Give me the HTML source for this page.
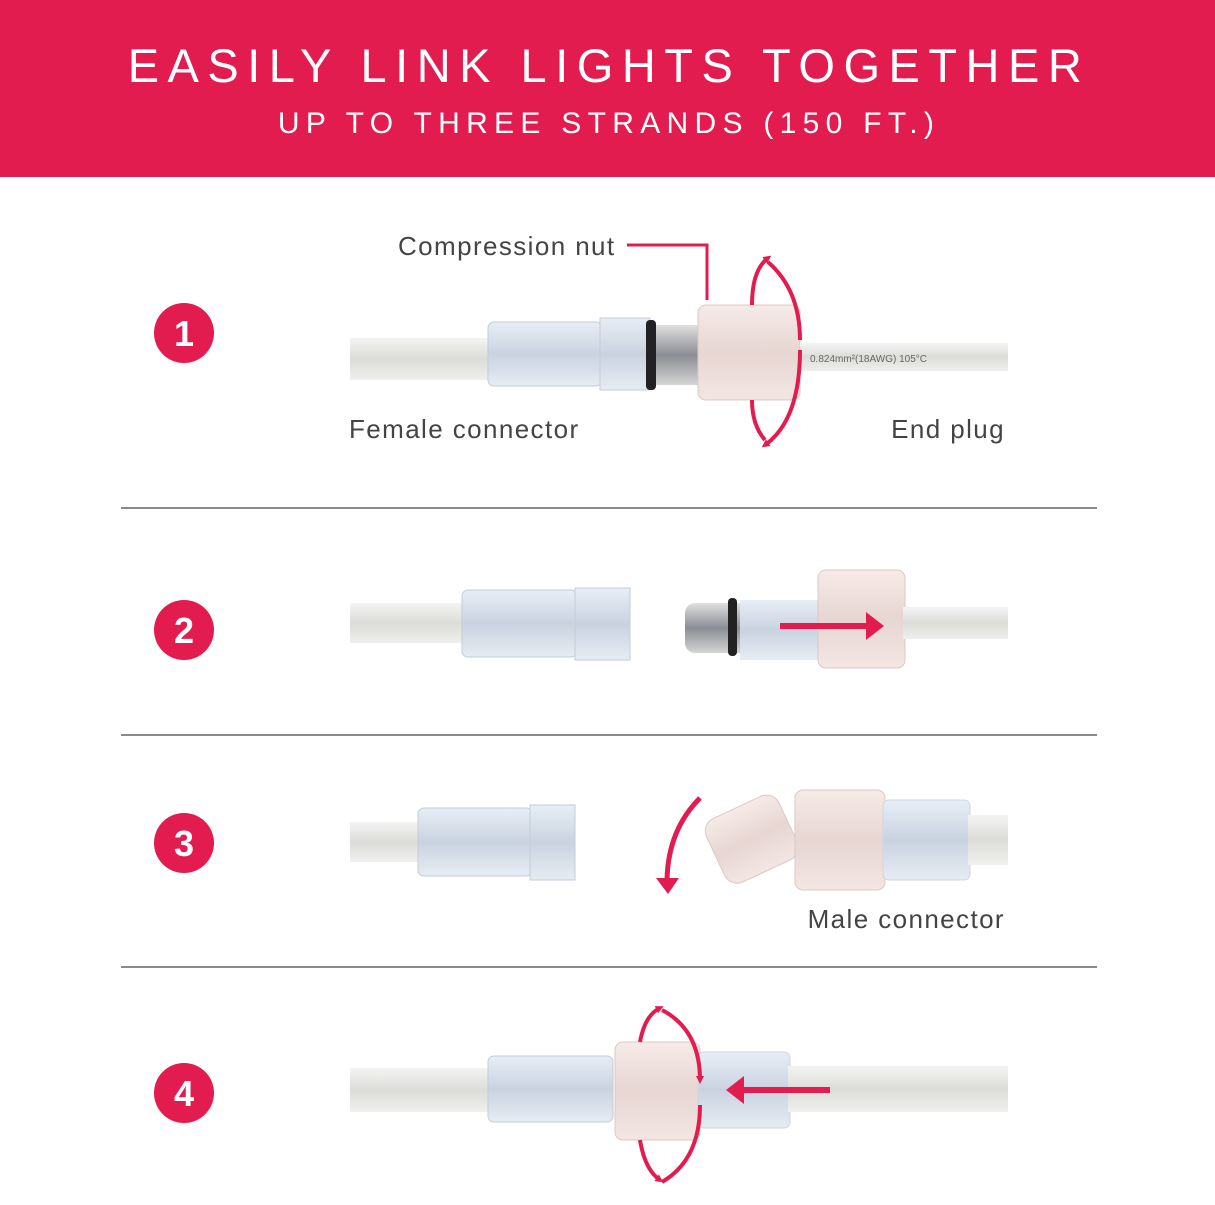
<!DOCTYPE html>
<html><head><meta charset="utf-8"><style>
body{margin:0;width:1215px;height:1200px;background:#fff;overflow:hidden;font-family:"Liberation Sans",sans-serif}
</style></head><body>
<svg width="1215" height="1200" viewBox="0 0 1215 1200" xmlns="http://www.w3.org/2000/svg">
<defs>
<linearGradient id="tube" x1="0" y1="0" x2="0" y2="1"><stop offset="0" stop-color="#f4f4f4"/><stop offset=".5" stop-color="#dcdcd8"/><stop offset="1" stop-color="#efefee"/></linearGradient>
<linearGradient id="conn" x1="0" y1="0" x2="0" y2="1"><stop offset="0" stop-color="#e8eef6"/><stop offset=".5" stop-color="#c9d3e0"/><stop offset="1" stop-color="#e6ecf3"/></linearGradient>
<linearGradient id="nut" x1="0" y1="0" x2="0" y2="1"><stop offset="0" stop-color="#f6ebe8"/><stop offset=".5" stop-color="#e7d6d2"/><stop offset="1" stop-color="#f3e6e3"/></linearGradient>
<linearGradient id="metal" x1="0" y1="0" x2="0" y2="1"><stop offset="0" stop-color="#e0e0e0"/><stop offset=".5" stop-color="#8a8d93"/><stop offset="1" stop-color="#d5d5d5"/></linearGradient>
<marker id="ah" markerWidth="8" markerHeight="8" refX="4" refY="4" orient="auto" markerUnits="userSpaceOnUse" viewBox="0 0 8 8"><path d="M0,0 L8,4 L0,8 z" fill="#e31c4f"/></marker>
</defs>
<rect x="0" y="0" width="1215" height="177" fill="#e31c4f"/>
<text x="609" y="82" text-anchor="middle" fill="#fff" font-size="47" letter-spacing="8.5">EASILY LINK LIGHTS TOGETHER</text>
<text x="609" y="133" text-anchor="middle" fill="#fff" font-size="30" letter-spacing="6.3">UP TO THREE STRANDS (150 FT.)</text>
<g fill="#e31c4f"><circle cx="184" cy="333" r="30"/><circle cx="184" cy="630" r="30"/><circle cx="184" cy="843" r="30"/><circle cx="184" cy="1093" r="30"/></g>
<g fill="#fff" font-size="36" font-weight="bold" text-anchor="middle"><text x="184" y="346">1</text><text x="184" y="643">2</text><text x="184" y="856">3</text><text x="184" y="1106">4</text></g>
<g stroke="#8a8a8a" stroke-width="2"><line x1="121" y1="508" x2="1097" y2="508"/><line x1="121" y1="735" x2="1097" y2="735"/><line x1="121" y1="967" x2="1097" y2="967"/></g>
<g fill="#444" font-size="26" letter-spacing="1.4"><text x="398" y="255">Compression nut</text><text x="349" y="438">Female connector</text><text x="1005" y="438" text-anchor="end">End plug</text><text x="1005" y="928" text-anchor="end">Male connector</text></g>
<!-- step1 -->
<rect x="350" y="338" width="140" height="42" fill="url(#tube)"/>
<rect x="488" y="322" width="114" height="64" rx="6" fill="url(#conn)" stroke="#c4ccd6"/>
<rect x="600" y="318" width="50" height="72" fill="url(#conn)" stroke="#c4ccd6"/>
<rect x="646" y="320" width="10" height="70" rx="4" fill="#222"/>
<rect x="656" y="325" width="45" height="60" fill="url(#metal)"/>
<rect x="698" y="305" width="102" height="95" rx="8" fill="url(#nut)" stroke="#dcc8c4"/>
<rect x="800" y="343" width="208" height="28" fill="url(#tube)"/>
<text x="810" y="362" font-size="10" fill="#666">0.824mm²(18AWG)  105°C</text>
<polyline points="627,245 707,245 707,300" fill="none" stroke="#e31c4f" stroke-width="3"/>
<path d="M752,305 Q752,270 768,258" fill="none" stroke="#e31c4f" stroke-width="4" marker-end="url(#ah)"/>
<path d="M768,262 Q800,290 800,340" fill="none" stroke="#e31c4f" stroke-width="4"/>
<path d="M800,350 Q800,420 765,445" fill="none" stroke="#e31c4f" stroke-width="4" marker-end="url(#ah)"/>
<path d="M752,400 Q752,425 765,440" fill="none" stroke="#e31c4f" stroke-width="4"/>
<!-- step2 -->
<rect x="350" y="603" width="115" height="40" fill="url(#tube)"/>
<rect x="462" y="590" width="115" height="67" rx="6" fill="url(#conn)" stroke="#c4ccd6"/>
<rect x="575" y="588" width="55" height="72" fill="url(#conn)" stroke="#c4ccd6"/>
<rect x="685" y="603" width="75" height="50" rx="10" fill="url(#metal)"/>
<rect x="728" y="598" width="9" height="58" rx="4" fill="#222"/>
<rect x="740" y="600" width="85" height="60" fill="url(#conn)"/>
<rect x="818" y="570" width="87" height="98" rx="8" fill="url(#nut)" stroke="#dcc8c4"/>
<rect x="903" y="607" width="105" height="32" fill="url(#tube)"/>
<line x1="780" y1="626" x2="870" y2="626" stroke="#e31c4f" stroke-width="6"/>
<path d="M866,612 L884,626 L866,640 z" fill="#e31c4f"/>
<!-- step3 -->
<rect x="350" y="822" width="70" height="40" fill="url(#tube)"/>
<rect x="418" y="808" width="114" height="68" rx="6" fill="url(#conn)" stroke="#c4ccd6"/>
<rect x="530" y="805" width="45" height="75" fill="url(#conn)" stroke="#c4ccd6"/>
<g transform="rotate(-25 750 840)"><rect x="712" y="805" width="80" height="70" rx="14" fill="url(#nut)" stroke="#dcc8c4"/></g>
<rect x="795" y="790" width="90" height="100" rx="8" fill="url(#nut)" stroke="#dcc8c4"/>
<rect x="883" y="800" width="87" height="80" rx="6" fill="url(#conn)" stroke="#d0d6de"/>
<rect x="968" y="815" width="40" height="50" fill="url(#tube)"/>
<path d="M700,798 Q668,830 667,880" fill="none" stroke="#e31c4f" stroke-width="5"/>
<path d="M656,878 L668,894 L679,878 z" fill="#e31c4f"/>
<!-- step4 -->
<rect x="350" y="1068" width="140" height="44" fill="url(#tube)"/>
<rect x="488" y="1056" width="125" height="66" rx="6" fill="url(#conn)" stroke="#c4ccd6"/>
<rect x="615" y="1042" width="85" height="98" rx="8" fill="url(#nut)" stroke="#dcc8c4"/>
<rect x="698" y="1052" width="92" height="76" rx="6" fill="url(#conn)" stroke="#d0d6de"/>
<rect x="788" y="1066" width="220" height="46" fill="url(#tube)"/>
<line x1="740" y1="1090" x2="830" y2="1090" stroke="#e31c4f" stroke-width="6"/>
<path d="M744,1076 L726,1090 L744,1104 z" fill="#e31c4f"/>
<path d="M640,1042 Q645,1015 660,1008" fill="none" stroke="#e31c4f" stroke-width="4" marker-end="url(#ah)"/>
<path d="M662,1010 Q700,1030 700,1080" fill="none" stroke="#e31c4f" stroke-width="4" marker-end="url(#ah)"/>
<path d="M640,1140 Q645,1170 660,1180" fill="none" stroke="#e31c4f" stroke-width="4" marker-end="url(#ah)"/>
<path d="M700,1105 Q700,1160 662,1182" fill="none" stroke="#e31c4f" stroke-width="4"/>
</svg>
</body></html>
